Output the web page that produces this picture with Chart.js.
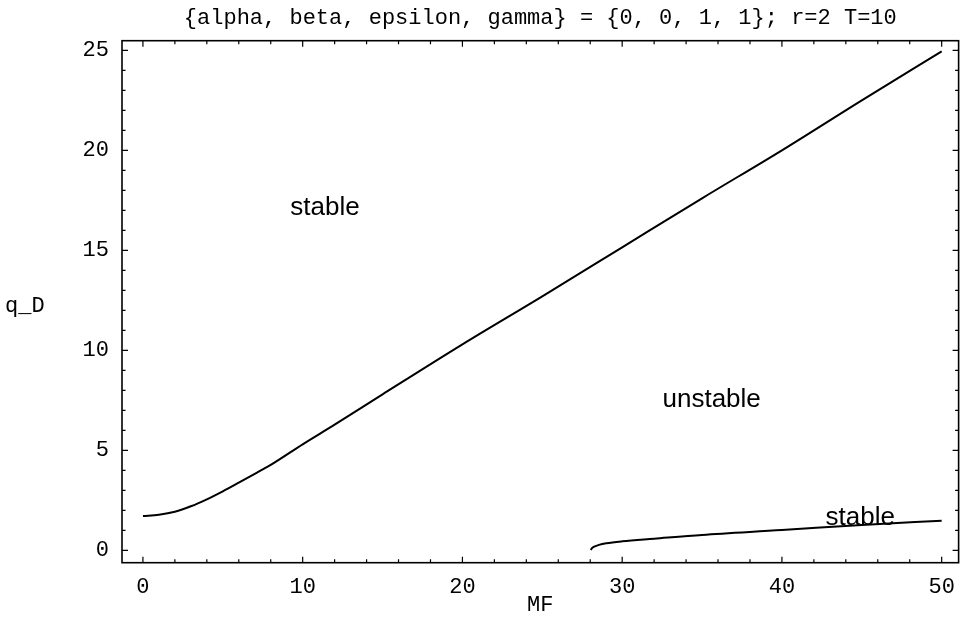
<!DOCTYPE html>
<html>
<head>
<meta charset="utf-8">
<script src="https://cdn.jsdelivr.net/npm/chart.js@4.4.1/dist/chart.umd.min.js"></script>
<style>
html,body{margin:0;padding:0;background:#fff;}
#wrap{width:966px;height:624px;position:relative;}
</style>
</head>
<body>
<div id="wrap"><canvas id="c" width="966" height="624"></canvas></div>
<script>
// ---- data ----
const titleText = "{alpha, beta, epsilon, gamma} = {0, 0, 1, 1}; r=2 T=10";
const xAxisTitle = "MF";
const yAxisTitle = "q_D";

const upperMF = [0, 1, 2, 3, 4, 5, 6, 7, 8, 10, 12, 15, 20, 25, 30, 35, 40, 45, 50];
const upperQ  = [1.71, 1.78, 1.93, 2.2, 2.55, 2.95, 3.38, 3.82, 4.27, 5.3, 6.28, 7.8, 10.3, 12.7, 15.15, 17.6, 20.0, 22.5, 24.95];

const lowerMF = [28.04, 28.1, 28.25, 28.55, 29.0, 30, 32, 35, 40, 45, 50];
const lowerQ  = [0.02, 0.1, 0.18, 0.27, 0.35, 0.45, 0.58, 0.77, 1.01, 1.27, 1.48];

const regionLabels = ["stable", "unstable", "stable"];
const regionMF = [11.4, 35.6, 44.9];
const regionQ  = [17.1, 7.5, 1.6];

const xTicksMajor = [0, 10, 20, 30, 40, 50];
const yTicksMajor = [0, 5, 10, 15, 20, 25];

function pts(xs, ys){ return xs.map((x,i)=>({x:x, y:ys[i]})); }

const framePlugin = {
  id: 'frame',
  afterDraw(chart){
    const ctx = chart.ctx, a = chart.chartArea;
    const xs = chart.scales.x, ys = chart.scales.y;
    ctx.save();
    ctx.strokeStyle = '#000';
    ctx.lineWidth = 1.6;
    ctx.strokeRect(a.left, a.top, a.right - a.left, a.bottom - a.top);
    ctx.lineWidth = 1.2;
    ctx.beginPath();
    // x ticks (bottom and top), minor every 2
    for (let v = 0; v <= 50; v += 2) {
      const px = xs.getPixelForValue(v);
      const len = (v % 10 === 0) ? 6 : 3.5;
      ctx.moveTo(px, a.bottom); ctx.lineTo(px, a.bottom - len);
      ctx.moveTo(px, a.top); ctx.lineTo(px, a.top + len);
    }
    // y ticks (left and right), minor every 1
    for (let v = 0; v <= 25; v += 1) {
      const py = ys.getPixelForValue(v);
      const len = (v % 5 === 0) ? 6 : 3.5;
      ctx.moveTo(a.left, py); ctx.lineTo(a.left + len, py);
      ctx.moveTo(a.right, py); ctx.lineTo(a.right - len, py);
    }
    ctx.stroke();

    // title
    ctx.fillStyle = '#000';
    ctx.font = '22px "Liberation Mono", monospace';
    ctx.textAlign = 'center';
    ctx.textBaseline = 'alphabetic';
    ctx.fillText(titleText, (a.left + a.right) / 2, 24);
    // axis titles
    ctx.fillText(xAxisTitle, (a.left + a.right) / 2, 611);
    ctx.textAlign = 'left';
    ctx.fillText(yAxisTitle, 5, 312);

    // region labels
    ctx.font = '26px "Liberation Sans", Arial, sans-serif';
    ctx.textAlign = 'center';
    ctx.textBaseline = 'middle';
    for (let i = 0; i < regionLabels.length; i++) {
      ctx.fillText(regionLabels[i], xs.getPixelForValue(regionMF[i]), ys.getPixelForValue(regionQ[i]));
    }
    ctx.restore();
  }
};

new Chart(document.getElementById('c'), {
  type: 'scatter',
  data: {
    datasets: [
      { data: pts(upperMF, upperQ), showLine: true, borderColor: '#000', borderWidth: 2,
        pointRadius: 0, cubicInterpolationMode: 'monotone', fill: false },
      { data: pts(lowerMF, lowerQ), showLine: true, borderColor: '#000', borderWidth: 2,
        pointRadius: 0, cubicInterpolationMode: 'monotone', fill: false }
    ]
  },
  options: {
    responsive: false,
    animation: false,
    devicePixelRatio: 1,
    layout: { padding: { left: 0, top: 40.7, right: 6, bottom: 0 } },
    plugins: { legend: { display: false }, tooltip: { enabled: false }, title: { display: false } },
    scales: {
      x: {
        type: 'linear', min: -1.31, max: 51.06,
        afterFit(s){ s.height = 61.3; },
        afterBuildTicks(s){ s.ticks = xTicksMajor.map(v => ({value: v})); },
        grid: { display: false, drawTicks: false },
        border: { display: false },
        ticks: { color: '#000', padding: 11, font: { family: '"Liberation Mono", monospace', size: 22 } }
      },
      y: {
        type: 'linear', min: -0.62, max: 25.48,
        afterFit(s){ s.width = 122; },
        afterBuildTicks(s){ s.ticks = yTicksMajor.map(v => ({value: v})); },
        grid: { display: false, drawTicks: false },
        border: { display: false },
        ticks: { color: '#000', padding: 13, font: { family: '"Liberation Mono", monospace', size: 22 } }
      }
    }
  },
  plugins: [framePlugin]
});
</script>
</body>
</html>
